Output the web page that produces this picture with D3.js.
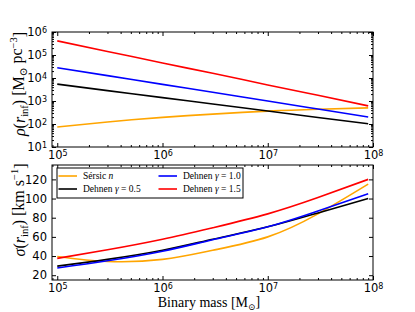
<!DOCTYPE html>
<html>
<head>
<meta charset="utf-8">
<script src="https://cdn.jsdelivr.net/npm/d3@7"></script>
<style>
  body { margin: 0; background: #fff; }
  svg { display: block; }
  .tick text { font-family: "DejaVu Sans", sans-serif; font-size: 11.5px; fill: #000; }
  .tick line { stroke: #000; }
  .lbl { font-family: "Liberation Serif", "DejaVu Serif", serif; fill: #000; }
</style>
</head>
<body>
<svg id="chart" width="415" height="312"></svg>
<script>
// binary mass grid (M_sun)
const masses = [1e5, 3e5, 1e6, 3e6, 1e7, 3e7, 9e7];

const seriesNames = ["Sérsic n", "Dehnen γ = 0.5", "Dehnen γ = 1.0", "Dehnen γ = 1.5"];
const seriesColors = ["orange", "black", "blue", "red"];

// rho(r_inf) [M_sun pc^-3]
const densitySersic = [74, 123, 195, 270, 363, 437, 500];
const densityG05 = [5400, 2830, 1400, 740, 366, 193, 102];
const densityG10 = [28000, 12700, 5300, 2400, 1000, 450, 203];
const densityG15 = [410000, 143000, 45000, 16000, 5000, 1770, 615];

// sigma(r_inf) [km/s]
const sigmaSersic = [39.5, 34.3, 36.5, 46, 60, 84, 115];
const sigmaG05 = [29.5, 36.5, 46, 57.5, 70.5, 85, 100];
const sigmaG10 = [27.5, 35, 45, 57, 70.5, 87, 105];
const sigmaG15 = [37.6, 46.5, 57.5, 69.5, 84, 101, 120];

const xTicks = [1e5, 1e6, 1e7, 1e8];
const densityTicks = [1e1, 1e2, 1e3, 1e4, 1e5, 1e6];
const sigmaTicks = [20, 40, 60, 80, 100, 120];

const svg = d3.select("#chart");

const left = 52, right = 373;
const topPanel = {y0: 32, y1: 147};
const botPanel = {y0: 165, y1: 280};

const x = d3.scaleLog().domain([Math.pow(10, 4.95), 1e8]).range([left, right]);
const yRho = d3.scaleLog().domain([1e1, 1e6]).range([topPanel.y1, topPanel.y0]);
const ySig = d3.scaleLinear().domain([15, 135]).range([botPanel.y1, botPanel.y0]);

function logMinor(domain) {
  const out = [];
  const e0 = Math.floor(Math.log10(domain[0]));
  const e1 = Math.ceil(Math.log10(domain[1]));
  for (let e = e0; e < e1; e++) {
    for (let k = 2; k < 10; k++) {
      const v = k * Math.pow(10, e);
      if (v >= domain[0] && v <= domain[1]) out.push(v);
    }
  }
  return out;
}

function powerLabels(sel) {
  sel.selectAll(".tick text").each(function(d) {
    const t = d3.select(this).text(null);
    t.append("tspan").text("10");
    t.append("tspan").attr("dy", "-0.45em").attr("font-size", "8px")
      .text(Math.round(Math.log10(d)));
  });
}

// frame, ticks on all four sides pointing inwards
function drawAxes(y, yTicks, yMinor, y0, y1, xLabels, logY) {
  const g = svg.append("g");

  const bottom = g.append("g").attr("transform", `translate(0,${y1})`)
      .call(d3.axisBottom(x).tickValues(xTicks).tickSizeInner(-4).tickSizeOuter(0).tickPadding(4));
  if (xLabels) bottom.call(powerLabels);
  else bottom.selectAll("text").remove();

  g.append("g").attr("transform", `translate(0,${y1})`)
      .call(d3.axisBottom(x).tickValues(logMinor(x.domain())).tickSizeInner(-2).tickSizeOuter(0).tickFormat(""));
  g.append("g").attr("transform", `translate(0,${y0})`)
      .call(d3.axisTop(x).tickValues(xTicks).tickSizeInner(-4).tickSizeOuter(0).tickFormat(""));
  g.append("g").attr("transform", `translate(0,${y0})`)
      .call(d3.axisTop(x).tickValues(logMinor(x.domain())).tickSizeInner(-2).tickSizeOuter(0).tickFormat(""));

  const leftAx = g.append("g").attr("transform", `translate(${left},0)`)
      .call(d3.axisLeft(y).tickValues(yTicks).tickSizeInner(-4).tickSizeOuter(0).tickPadding(5));
  if (logY) leftAx.call(powerLabels);
  g.append("g").attr("transform", `translate(${right},0)`)
      .call(d3.axisRight(y).tickValues(yTicks).tickSizeInner(-4).tickSizeOuter(0).tickFormat(""));
  if (yMinor.length) {
    g.append("g").attr("transform", `translate(${left},0)`)
        .call(d3.axisLeft(y).tickValues(yMinor).tickSizeInner(-2).tickSizeOuter(0).tickFormat(""));
    g.append("g").attr("transform", `translate(${right},0)`)
        .call(d3.axisRight(y).tickValues(yMinor).tickSizeInner(-2).tickSizeOuter(0).tickFormat(""));
  }
  g.selectAll(".domain").remove();

  g.append("rect")
      .attr("x", left).attr("y", y0)
      .attr("width", right - left).attr("height", y1 - y0)
      .attr("fill", "none").attr("stroke", "#000").attr("stroke-width", 1);
}

function drawLines(y, series) {
  const line = d3.line()
      .x((d, i) => x(masses[i]))
      .y(d => y(d))
      .curve(d3.curveNatural);
  svg.append("g").selectAll("path")
    .data(series)
    .join("path")
      .attr("d", d => line(d))
      .attr("fill", "none")
      .attr("stroke", (d, i) => seriesColors[i])
      .attr("stroke-width", 1.6);
}

drawLines(yRho, [densitySersic, densityG05, densityG10, densityG15]);
drawLines(ySig, [sigmaSersic, sigmaG05, sigmaG10, sigmaG15]);

drawAxes(yRho, densityTicks, logMinor(yRho.domain()), topPanel.y0, topPanel.y1, true, true);
drawAxes(ySig, sigmaTicks, [], botPanel.y0, botPanel.y1, true, false);

// axis labels
const rhoLabel = svg.append("text").attr("class", "lbl")
    .attr("font-size", "16px").attr("text-anchor", "middle")
    .attr("transform", "translate(25,84) rotate(-90)");
rhoLabel.append("tspan").attr("font-style", "italic").text("ρ");
rhoLabel.append("tspan").text("(");
rhoLabel.append("tspan").attr("font-style", "italic").text("r");
rhoLabel.append("tspan").attr("font-size", "10.5px").attr("dy", "0.25em").text("inf");
rhoLabel.append("tspan").attr("dy", "-0.25em").text(")  [M");
rhoLabel.append("tspan").attr("font-size", "10.5px").attr("dy", "0.3em").text("⊙");
rhoLabel.append("tspan").attr("dy", "-0.3em").text(" pc");
rhoLabel.append("tspan").attr("font-size", "10.5px").attr("dy", "-0.5em").text("−3");
rhoLabel.append("tspan").attr("dy", "0.5em").text("]");

const sigLabel = svg.append("text").attr("class", "lbl")
    .attr("font-size", "16px").attr("text-anchor", "middle")
    .attr("transform", "translate(25,210) rotate(-90)");
sigLabel.append("tspan").attr("font-style", "italic").text("σ");
sigLabel.append("tspan").text("(");
sigLabel.append("tspan").attr("font-style", "italic").text("r");
sigLabel.append("tspan").attr("font-size", "10.5px").attr("dy", "0.25em").text("inf");
sigLabel.append("tspan").attr("dy", "-0.25em").text(")  [km s");
sigLabel.append("tspan").attr("font-size", "10.5px").attr("dy", "-0.5em").text("−1");
sigLabel.append("tspan").attr("dy", "0.5em").text("]");

const xLabel = svg.append("text").attr("class", "lbl")
    .attr("font-size", "14px").attr("text-anchor", "middle")
    .attr("x", 209).attr("y", 307);
xLabel.append("tspan").text("Binary mass [M");
xLabel.append("tspan").attr("font-size", "9px").attr("dy", "0.3em").text("⊙");
xLabel.append("tspan").attr("dy", "-0.3em").text("]");

// legend, two columns filled column-wise
const legend = svg.append("g").attr("transform", "translate(57,168)");
legend.append("rect")
    .attr("width", 186).attr("height", 30)
    .attr("fill", "#fff").attr("stroke", "#000").attr("stroke-width", 1);
const item = legend.selectAll(".item")
  .data(seriesNames)
  .join("g")
    .attr("class", "item")
    .attr("transform", (d, i) => `translate(${Math.floor(i / 2) * 100},${8 + (i % 2) * 13})`);
item.append("line")
    .attr("x1", 1.5).attr("x2", 20)
    .attr("stroke", (d, i) => seriesColors[i]).attr("stroke-width", 1.6);
item.append("text").attr("class", "lbl")
    .attr("x", 26).attr("dy", "0.32em").attr("font-size", "9.5px")
    .each(function(d) {
      const t = d3.select(this);
      if (d.startsWith("Sérsic")) {
        t.append("tspan").text("Sérsic ");
        t.append("tspan").attr("font-style", "italic").text("n");
      } else {
        const parts = d.split("γ");
        t.append("tspan").text(parts[0]);
        t.append("tspan").attr("font-style", "italic").text("γ");
        t.append("tspan").text(parts[1]);
      }
    });
</script>
</body>
</html>
